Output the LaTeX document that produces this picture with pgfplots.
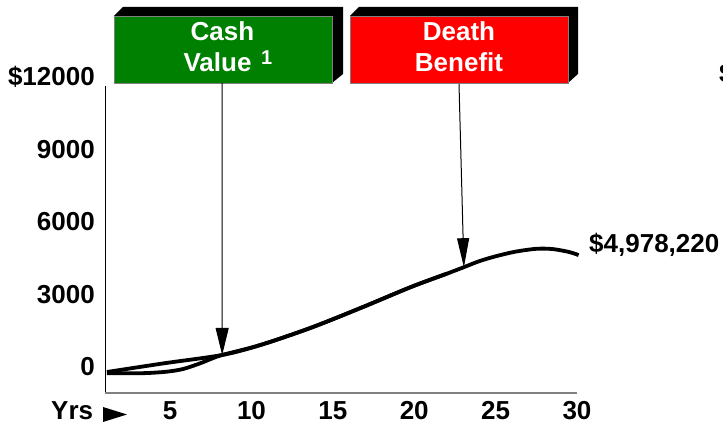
\documentclass[border=0pt]{standalone}
\usepackage{pgfplots}
\pgfplotsset{compat=1.18}
\usepackage{fontspec}
\setmainfont{Liberation Sans}
\usetikzlibrary{arrows.meta}
\definecolor{cvgreen}{RGB}{0,128,0}
\definecolor{dbred}{RGB}{255,0,0}
\newcommand{\bigbf}{\fontsize{26}{31}\selectfont\bfseries}
\begin{document}
\begin{tikzpicture}[x=1pt,y=1pt]
\useasboundingbox (0,0) rectangle (723,427);
\begin{axis}[
  at={(105pt,34pt)}, anchor=south west, scale only axis,
  width=472pt, height=316pt,
  xmin=1, xmax=30, ymin=-1076, ymax=12000,
  clip=false,
  scaled y ticks=false, scaled x ticks=false,
  axis x line*=bottom, axis y line*=left,
  axis line style={draw=none},
  tick style={draw=none},
  xtick={5,10,15,20,25,30},
  xticklabels={5,10,15,20,25,30},
  ytick={0,3000,6000,9000,12000},
  yticklabels={0,3000,6000,9000,\$12000},
  xticklabel style={anchor=base, inner sep=0pt, yshift=-27pt},
  yticklabel style={anchor=east, inner sep=0pt, xshift=-10pt},
  tick label style={font=\bigbf},
]
\draw[black, line width=1pt] (axis cs:1,-1076) -- (axis cs:1,11628);
\draw[gray, line width=1.2pt] (axis cs:1,-1076) -- (axis cs:30,-1076);
% upper curve (death benefit)
\addplot[black, line width=3.8pt, smooth, tension=0.5] coordinates {
(1.12,-207) (4.6,150) (8.2,497) (10.5,900) (13.6,1610) (16.7,2440) (19.8,3310) (22,3860) (23.05,4130) (24,4380) (25,4580) (26.2,4770) (27.5,4890) (28.5,4880) (29.5,4760) (30.1,4630)};
% lower curve (cash value)
\addplot[black, line width=3.8pt, smooth, tension=0.5] coordinates {
(1.12,-260) (2.5,-262) (3.6,-250) (4.8,-194) (5.8,-83) (6.85,153) (7.5,330) (8.2,497) (10.5,900) (13.6,1610) (16.7,2440) (19.8,3310) (22,3860)};
\coordinate (t1) at (axis cs:8.2,497);
\coordinate (t2) at (axis cs:23.05,4130);
\end{axis}
% Cash value box
\fill[black] (114,411) -- (123,420) -- (343,420) -- (343,353) -- (332,344) -- (332,411) -- cycle;
\filldraw[fill=cvgreen, draw=gray, line width=0.8pt] (114,344) rectangle (332,411);
\node[anchor=base, text=white, font=\bigbf, inner sep=0pt] at (222.5,386) {Cash};
\node[anchor=base, text=white, font=\bigbf, inner sep=0pt] at (217.5,355) {Value};
\node[anchor=base west, text=white, font=\fontsize{20}{24}\selectfont\bfseries, inner sep=0pt] at (261,362) {1};
% Death benefit box
\fill[black] (350,411) -- (359,420) -- (578,420) -- (578,353) -- (568,344) -- (568,411) -- cycle;
\filldraw[fill=dbred, draw=gray, line width=0.8pt] (350,344) rectangle (568,411);
\node[anchor=base, text=white, font=\bigbf, inner sep=0pt] at (459,386) {Death};
\node[anchor=base, text=white, font=\bigbf, inner sep=0pt] at (459,355) {Benefit};
% arrows
\draw[line width=1pt, -{Triangle[length=27pt,width=13pt]}] (222,344) -- (t1);
\draw[line width=1pt, -{Triangle[length=29pt,width=12pt]}] (459,343) -- (t2);
% labels
\node[anchor=base west, font=\bigbf, inner sep=0pt] at (589,174) {\$4,978,220};
\node[anchor=base west, font=\bigbf, inner sep=0pt] at (719,344) {\$12000};
\node[anchor=base west, font=\bigbf, inner sep=0pt] at (51,7) {Yrs};
\fill[black] (103,20) -- (127,12.5) -- (103,5) -- cycle;
\end{tikzpicture}
\end{document}
